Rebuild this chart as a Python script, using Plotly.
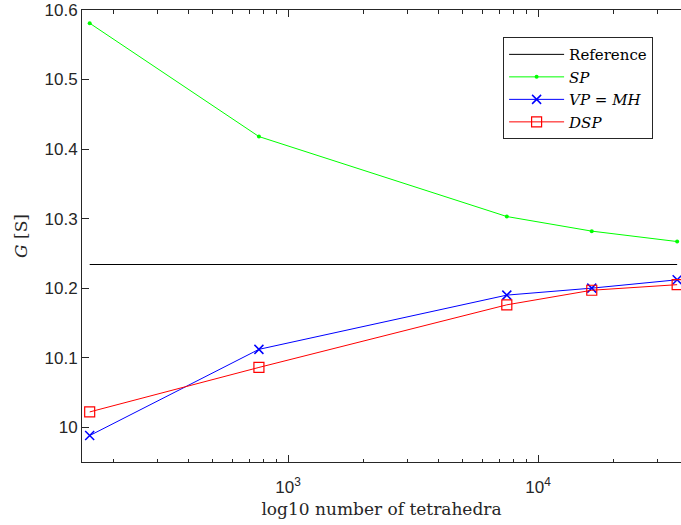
import numpy as np
import plotly.graph_objects as go

# Data
n_tetra = [161, 765, 7500, 16400, 36000]
g_reference = 10.234
g_sp = [10.581, 10.418, 10.303, 10.282, 10.267]
g_vp_mh = [9.988, 10.112, 10.190, 10.200, 10.212]
g_dsp = [10.022, 10.086, 10.176, 10.197, 10.205]

x_major = [1000, 10000]
x_major_text = ["10<sup>3</sup>", "10<sup>4</sup>"]
x_minor = [k * 10 ** e for e in (2, 3, 4) for k in range(2, 10)]
y_ticks = [10.0, 10.1, 10.2, 10.3, 10.4, 10.5, 10.6]
y_tick_text = ["10", "10.1", "10.2", "10.3", "10.4", "10.5", "10.6"]

axis_color = "#262626"
serif = "DejaVu Serif"

fig = go.Figure()
fig.add_trace(go.Scatter(
    x=[n_tetra[0], n_tetra[-1]], y=[g_reference, g_reference],
    mode="lines", name="Reference",
    line=dict(color="black", width=1)))
fig.add_trace(go.Scatter(
    x=n_tetra, y=g_sp, mode="lines+markers", name="<i>SP</i>",
    line=dict(color="#00ff00", width=1),
    marker=dict(symbol="circle", size=4, color="#00ff00")))
fig.add_trace(go.Scatter(
    x=n_tetra, y=g_vp_mh, mode="lines+markers", name="<i>VP</i> = <i>MH</i>",
    line=dict(color="#0000ff", width=1),
    marker=dict(symbol="x-thin", size=9, line=dict(color="#0000ff", width=1.5))))
fig.add_trace(go.Scatter(
    x=n_tetra, y=g_dsp, mode="lines+markers", name="<i>DSP</i>",
    line=dict(color="#ff0000", width=1),
    marker=dict(symbol="square-open", size=10, color="#ff0000", line=dict(width=1.2))))

fig.update_layout(
    width=681, height=525,
    margin=dict(l=82, r=0, t=10, b=63),
    paper_bgcolor="white", plot_bgcolor="white",
    showlegend=True,
    legend=dict(
        x=0.703, y=0.94, xanchor="left", yanchor="top",
        bgcolor="white", bordercolor=axis_color, borderwidth=1,
        font=dict(family=serif, size=15, color="black"),
        itemwidth=55,
        tracegroupgap=0),
    xaxis=dict(
        type="log",
        range=[np.log10(150), np.log10(37300)],
        tickmode="array", tickvals=x_major, ticktext=x_major_text,
        ticks="inside", ticklen=7, tickwidth=1, tickcolor=axis_color,
        minor=dict(tickmode="array", tickvals=x_minor, ticks="inside",
                   ticklen=3.5, tickwidth=1, tickcolor=axis_color),
        showline=True, linecolor=axis_color, linewidth=1, mirror="ticks",
        showgrid=False, zeroline=False,
        ticklabelstandoff=10,
        tickfont=dict(family="Liberation Sans", size=17, color=axis_color),
        title=dict(text="log10 number of tetrahedra",
                   font=dict(family=serif, size=17, color=axis_color),
                   standoff=6),
    ),
    yaxis=dict(
        range=[9.95, 10.6],
        tickmode="array", tickvals=y_ticks, ticktext=y_tick_text,
        ticks="inside", ticklen=7, tickwidth=1, tickcolor=axis_color,
        showline=True, linecolor=axis_color, linewidth=1, mirror=False,
        showgrid=False, zeroline=False,
        tickfont=dict(family="Liberation Sans", size=17, color=axis_color),
        title=dict(text="<i>G</i> [S]",
                   font=dict(family=serif, size=17, color=axis_color),
                   standoff=12),
    ),
)

fig.write_html(
    "out.html",
    config={"displayModeBar": False},
    post_script="document.body.style.margin='0';document.body.style.overflow='hidden';",
)
